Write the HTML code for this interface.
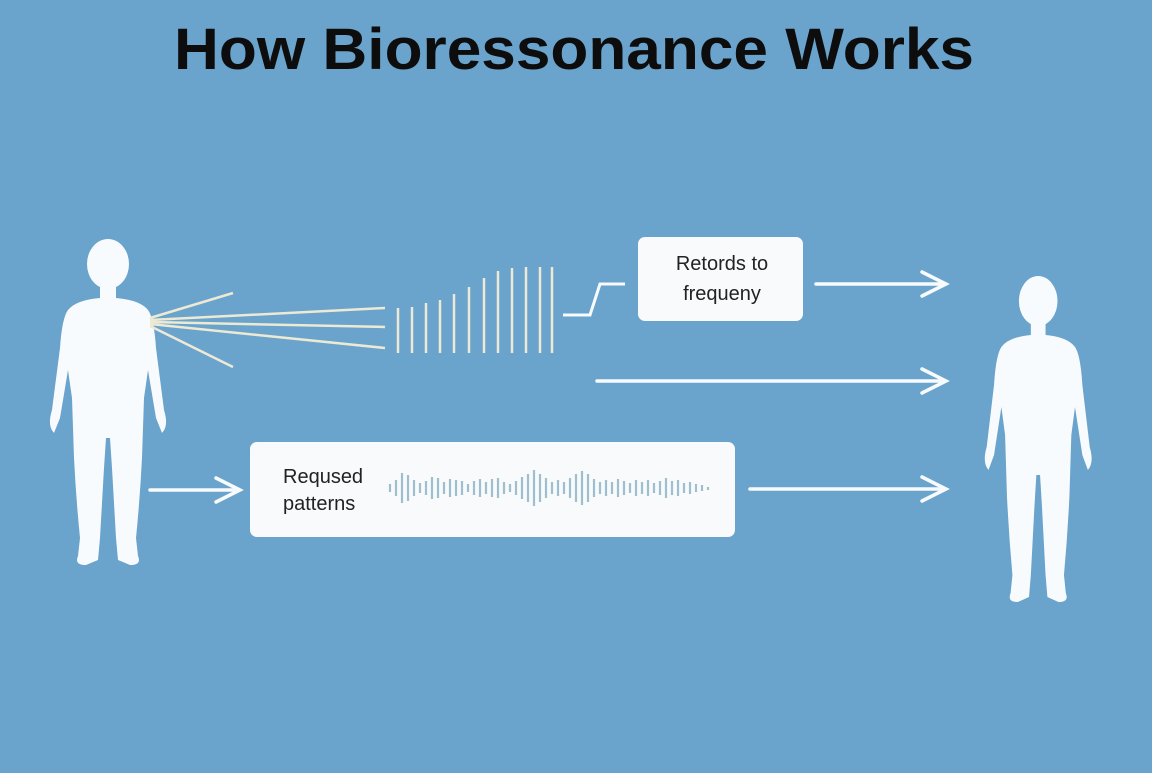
<!DOCTYPE html>
<html><head><meta charset="utf-8"><style>
body{margin:0;width:1152px;height:768px;background:#6aa3cb;overflow:hidden;font-family:"Liberation Sans",sans-serif}
</style></head><body>
<svg width="1152" height="768" xmlns="http://www.w3.org/2000/svg">
<rect width="1152" height="768" fill="#6aa3cb"/>
<text x="174" y="69" textLength="800" lengthAdjust="spacingAndGlyphs" font-family="Liberation Sans, sans-serif" font-weight="bold" font-size="58" fill="#0d0d0d">How Bioressonance Works</text>
<defs>
<g id="p">
<ellipse cx="60" cy="26" rx="21" ry="25"/>
<path d="M52,46 L52,60 Q28,62 20,72 Q14,80 12,110 L4,172 Q-1,188 6,195 L12,180 L20,132 L24,160 L26,220 Q28,260 32,300 L30,318 Q26,327 38,327 L50,322 L52,300 L56,230 L58,200 L62,200 L64,230 L68,300 L70,322 L82,327 Q94,327 90,318 L88,300 Q92,260 94,220 L96,160 L100,132 L108,180 L114,195 Q121,188 116,172 L108,110 Q106,80 100,72 Q92,62 68,60 L68,46 Z"/>
</g>
</defs>
<g fill="#f8fbfd"><use href="#p" transform="translate(48,238)"/><use href="#p" transform="translate(983,275) scale(0.92,1.0)"/></g>
<g stroke="#ece9d4" stroke-width="2.5" fill="none">
<line x1="150" y1="318" x2="233" y2="293"/><line x1="150" y1="320" x2="385" y2="308"/><line x1="150" y1="322" x2="385" y2="327"/><line x1="150" y1="324" x2="385" y2="348"/><line x1="150" y1="326" x2="233" y2="367"/>
<line x1="398" y1="308" x2="398" y2="353"/><line x1="412" y1="307" x2="412" y2="353"/><line x1="426" y1="303" x2="426" y2="353"/><line x1="440" y1="300" x2="440" y2="353"/><line x1="454" y1="294" x2="454" y2="353"/><line x1="469" y1="287" x2="469" y2="353"/><line x1="484" y1="278" x2="484" y2="353"/><line x1="498" y1="271" x2="498" y2="353"/><line x1="512" y1="268" x2="512" y2="353"/><line x1="526" y1="267" x2="526" y2="353"/><line x1="540" y1="267" x2="540" y2="353"/><line x1="552" y1="267" x2="552" y2="353"/>
</g>
<polyline points="563,315 590,315 600,284 625,284" stroke="#f8fbfd" stroke-width="3" fill="none"/>
<rect x="638" y="237" width="165" height="84" rx="7" fill="#f8fafb"/>
<text x="722" y="270" text-anchor="middle" font-size="20" fill="#222">Retords to</text>
<text x="722" y="300" text-anchor="middle" font-size="20" fill="#222">frequeny</text>
<rect x="250" y="442" width="485" height="95" rx="7" fill="#f8fafb"/>
<text x="283" y="483" font-size="20" fill="#222">Reqused</text>
<text x="283" y="510" font-size="20" fill="#222">patterns</text>
<g stroke="#9fbfcf" stroke-width="2.2">
<line x1="390" y1="484" x2="390" y2="492"/><line x1="396" y1="480" x2="396" y2="496"/><line x1="402" y1="473" x2="402" y2="503"/><line x1="408" y1="475" x2="408" y2="501"/><line x1="414" y1="480" x2="414" y2="496"/><line x1="420" y1="483" x2="420" y2="493"/><line x1="426" y1="481" x2="426" y2="495"/><line x1="432" y1="477" x2="432" y2="499"/><line x1="438" y1="478" x2="438" y2="498"/><line x1="444" y1="482" x2="444" y2="494"/><line x1="450" y1="479" x2="450" y2="497"/><line x1="456" y1="480" x2="456" y2="496"/><line x1="462" y1="481" x2="462" y2="495"/><line x1="468" y1="484" x2="468" y2="492"/><line x1="474" y1="481" x2="474" y2="495"/><line x1="480" y1="479" x2="480" y2="497"/><line x1="486" y1="482" x2="486" y2="494"/><line x1="492" y1="479" x2="492" y2="497"/><line x1="498" y1="478" x2="498" y2="498"/><line x1="504" y1="482" x2="504" y2="494"/><line x1="510" y1="484" x2="510" y2="492"/><line x1="516" y1="481" x2="516" y2="495"/><line x1="522" y1="477" x2="522" y2="499"/><line x1="528" y1="474" x2="528" y2="502"/><line x1="534" y1="470" x2="534" y2="506"/><line x1="540" y1="474" x2="540" y2="502"/><line x1="546" y1="478" x2="546" y2="498"/><line x1="552" y1="482" x2="552" y2="494"/><line x1="558" y1="480" x2="558" y2="496"/><line x1="564" y1="482" x2="564" y2="494"/><line x1="570" y1="478" x2="570" y2="498"/><line x1="576" y1="474" x2="576" y2="502"/><line x1="582" y1="471" x2="582" y2="505"/><line x1="588" y1="474" x2="588" y2="502"/><line x1="594" y1="479" x2="594" y2="497"/><line x1="600" y1="482" x2="600" y2="494"/><line x1="606" y1="480" x2="606" y2="496"/><line x1="612" y1="482" x2="612" y2="494"/><line x1="618" y1="479" x2="618" y2="497"/><line x1="624" y1="481" x2="624" y2="495"/><line x1="630" y1="483" x2="630" y2="493"/><line x1="636" y1="480" x2="636" y2="496"/><line x1="642" y1="482" x2="642" y2="494"/><line x1="648" y1="480" x2="648" y2="496"/><line x1="654" y1="483" x2="654" y2="493"/><line x1="660" y1="481" x2="660" y2="495"/><line x1="666" y1="478" x2="666" y2="498"/><line x1="672" y1="481" x2="672" y2="495"/><line x1="678" y1="480" x2="678" y2="496"/><line x1="684" y1="483" x2="684" y2="493"/><line x1="690" y1="482" x2="690" y2="494"/><line x1="696" y1="484" x2="696" y2="492"/><line x1="702" y1="485" x2="702" y2="491"/><line x1="708" y1="487" x2="708" y2="490"/>
</g>
<g stroke="#f8fbfd" stroke-width="3.5" fill="none" stroke-linecap="round">
<line x1="816" y1="284" x2="940" y2="284"/><polyline points="922,272 946,284 922,296"/>
<line x1="597" y1="381" x2="940" y2="381"/><polyline points="922,369 946,381 922,393"/>
<line x1="150" y1="490" x2="234" y2="490"/><polyline points="216,478 240,490 216,502"/>
<line x1="750" y1="489" x2="940" y2="489"/><polyline points="922,477 946,489 922,501"/>
</g>
</svg>
</body></html>
